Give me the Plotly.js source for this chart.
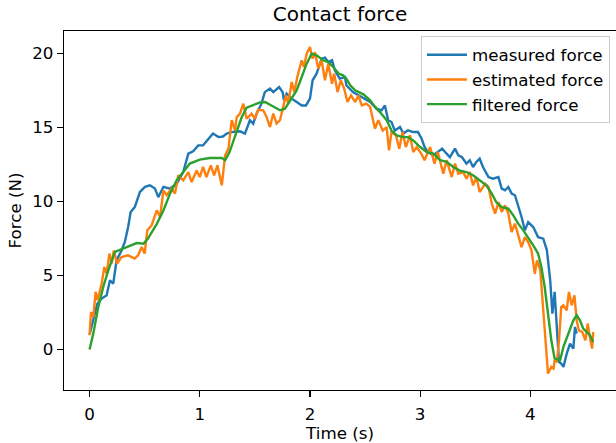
<!DOCTYPE html>
<html>
<head>
<meta charset="utf-8">
<script src="https://cdn.plot.ly/plotly-3.0.1.min.js"></script>
<style>
html,body{margin:0;padding:0;background:#fff;}
#chart{width:616px;height:443px;}
</style>
</head>
<body>
<div id="chart"></div>
<script>
// Measured force (blue)
const tMeasured = [0,0.034,0.07,0.11,0.155,0.185,0.215,0.245,0.29,0.32,0.35,0.373,0.41,0.457,0.503,0.548,0.593,0.624,0.67,0.73,0.79,0.85,0.896,0.94,0.986,1.03,1.077,1.12,1.17,1.21,1.244,1.29,1.365,1.41,1.455,1.485,1.516,1.56,1.59,1.637,1.667,1.72,1.752,1.764,1.788,1.834,1.88,1.925,1.964,2.0,2.024,2.06,2.106,2.136,2.166,2.2,2.226,2.27,2.318,2.33,2.39,2.44,2.485,2.546,2.605,2.65,2.68,2.71,2.74,2.77,2.817,2.847,2.89,2.937,2.98,3.01,3.04,3.07,3.12,3.16,3.2,3.24,3.27,3.316,3.346,3.38,3.42,3.45,3.48,3.51,3.54,3.57,3.62,3.66,3.71,3.74,3.77,3.8,3.83,3.86,3.89,3.92,3.95,3.98,4.026,4.07,4.117,4.15,4.18,4.2,4.22,4.24,4.26,4.28,4.3,4.33,4.36,4.39,4.405,4.42];
const fMeasured = [1.0,2.1,3.1,3.45,3.67,4.68,4.46,6.03,6.7,7.27,8.28,9.3,9.63,10.65,11.0,11.1,10.88,10.3,11.0,10.88,11.2,12.0,13.24,13.4,13.8,13.8,14.2,14.6,14.36,14.4,14.6,14.7,14.75,14.6,15.5,15.27,15.95,16.62,17.4,17.64,17.4,17.74,17.4,16.84,17.3,16.96,16.73,16.5,16.5,16.96,18.2,18.65,19.66,19.73,19.43,19.55,18.87,18.31,18.42,17.86,17.4,17.18,16.96,16.73,16.28,16.17,16.5,15.5,15.38,14.8,15.04,14.6,14.82,14.7,14.7,14.3,13.7,13.35,13.13,13.35,13.58,13.24,13.0,13.58,13.13,13.0,12.57,12.8,12.34,12.68,12.9,12.34,11.66,11.55,11.66,10.88,10.76,10.99,10.54,10.43,9.75,8.96,8.06,8.62,8.28,7.6,7.5,6.71,4.68,2.43,3.9,1.08,-0.84,-0.95,-1.17,-0.27,0.4,0.07,1.53,1.08];

// Estimated force (orange)
const tEstimated = [0,0.013,0.034,0.055,0.073,0.11,0.134,0.155,0.18,0.2,0.22,0.25,0.29,0.35,0.41,0.44,0.473,0.5,0.524,0.563,0.61,0.64,0.67,0.70,0.745,0.775,0.805,0.85,0.896,0.926,0.972,1.0,1.03,1.06,1.1,1.13,1.16,1.2,1.23,1.26,1.29,1.32,1.335,1.365,1.395,1.425,1.47,1.5,1.53,1.576,1.607,1.637,1.667,1.697,1.728,1.758,1.782,1.803,1.834,1.858,1.885,1.925,1.945,1.97,2.0,2.024,2.045,2.075,2.106,2.136,2.166,2.2,2.22,2.25,2.28,2.31,2.34,2.373,2.41,2.44,2.47,2.51,2.546,2.59,2.62,2.66,2.696,2.717,2.74,2.78,2.81,2.84,2.87,2.907,2.937,2.968,3.01,3.04,3.09,3.13,3.16,3.21,3.24,3.286,3.316,3.346,3.39,3.42,3.45,3.48,3.51,3.54,3.59,3.62,3.65,3.68,3.71,3.74,3.77,3.8,3.83,3.86,3.89,3.92,3.95,3.98,4.01,4.04,4.06,4.09,4.117,4.14,4.16,4.19,4.21,4.22,4.24,4.26,4.28,4.3,4.33,4.35,4.375,4.4,4.42,4.44,4.47,4.5,4.52,4.54,4.56,4.57];
const fEstimated = [0.97,2.54,2.2,3.9,3.33,4.46,5.58,5.13,6.49,5.81,6.7,5.81,6.26,6.37,6.15,6.37,6.93,6.49,8.06,8.4,9.41,8.96,10.76,10.43,10.88,10.54,11.78,11.44,12.0,11.32,12.1,11.66,12.34,11.66,12.45,11.78,12.45,11.1,13.13,13.58,15.5,14.8,15.7,15.95,16.62,15.6,15.95,15.6,16.2,16.17,15.7,15.04,15.95,15.27,15.5,16.4,17.18,16.62,18.08,17.4,18.42,19.55,19.1,20.0,20.45,19.66,20.1,18.99,19.55,18.2,19.32,17.97,18.65,17.4,18.2,17.64,16.73,17.18,16.73,17.18,16.5,16.62,16.4,14.93,15.5,14.8,15.04,13.47,14.7,14.48,13.58,14.7,13.69,14.48,13.35,13.69,13.24,12.8,13.69,12.57,13.35,11.89,12.8,11.66,12.57,11.89,12.0,11.55,12.0,11.1,11.66,10.65,11.2,10.99,9.86,9.19,9.97,9.3,9.75,9.19,7.95,8.51,7.72,6.93,7.6,7.27,6.71,5.13,6.03,5.36,2.66,0.4,-1.62,-1.17,-1.28,-0.72,-0.84,0.63,2.88,2.99,2.66,3.9,2.99,3.67,1.98,1.3,1.19,0.63,1.76,0.85,0.07,1.19];

// Filtered force (green)
const tFiltered = [0,0.034,0.079,0.124,0.17,0.23,0.337,0.427,0.49,0.53,0.61,0.67,0.73,0.79,0.85,0.91,1.0,1.09,1.2,1.23,1.27,1.335,1.38,1.425,1.485,1.546,1.592,1.652,1.728,1.773,1.818,1.879,1.925,1.97,2.015,2.06,2.12,2.166,2.21,2.26,2.3,2.33,2.366,2.41,2.485,2.546,2.59,2.635,2.696,2.74,2.787,2.847,2.89,2.937,3.0,3.06,3.12,3.18,3.24,3.3,3.36,3.42,3.48,3.54,3.6,3.65,3.69,3.74,3.8,3.845,3.89,3.936,3.98,4.026,4.07,4.1,4.13,4.16,4.19,4.22,4.27,4.3,4.345,4.39,4.42,4.45,4.48,4.51,4.54,4.57];
const fFiltered = [0,1.08,2.88,4.23,5.36,6.6,6.93,7.2,7.16,7.5,8.5,9.4,10.54,11.44,12.0,12.57,12.84,12.95,12.95,12.8,13.35,14.8,15.7,16.35,16.5,16.7,16.73,16.5,16.17,16.28,16.84,17.52,18.42,19.32,20.0,19.89,19.55,19.43,19.1,18.65,18.53,18.3,17.86,17.52,17.25,16.84,16.4,16.05,15.5,14.8,14.48,14.36,14.36,14.14,13.69,13.35,13.24,12.8,12.68,12.34,12.1,12.0,11.78,11.44,11.1,10.54,9.97,9.63,9.53,9.07,8.51,8.06,7.6,7.05,6.49,5.58,4.23,2.43,0.63,-0.61,-0.72,0.18,1.08,1.98,2.32,1.98,1.42,1.19,0.97,0.51];

const seriesNames = ["measured force", "estimated force", "filtered force"];
const seriesColors = ["#1f77b4", "#ff7f0e", "#2ca02c"];
const xTicks = [0, 1, 2, 3, 4];
const yTicks = [0, 5, 10, 15, 20];

const font = "DejaVu Sans, sans-serif";
const fs = 16.7;
const traces = [
  {x: tMeasured, y: fMeasured},
  {x: tEstimated, y: fEstimated},
  {x: tFiltered, y: fFiltered}
].map((d, i) => ({
  x: d.x, y: d.y, type: "scatter", mode: "lines",
  name: seriesNames[i],
  line: {color: seriesColors[i], width: 2.4}
}));

const layout = {
  width: 616, height: 443,
  margin: {l: 64, r: 0, t: 31, b: 53, pad: 0},
  paper_bgcolor: "#fff", plot_bgcolor: "#fff",
  font: {family: font, size: fs, color: "#000"},
  title: {text: "Contact force", font: {family: font, size: 20, color: "#000"}, x: 0.5, xref: "paper", y: 0.968, yanchor: "middle"},
  xaxis: {
    range: [-0.232, 4.777], tickvals: xTicks, ticktext: xTicks.map(String),
    showgrid: false, zeroline: false, showline: true, linecolor: "#000", linewidth: 1.3,
    mirror: true, ticks: "outside", ticklen: 6, tickcolor: "#000", tickwidth: 1.3,
    ticklabelstandoff: 3,
    tickfont: {family: font, size: fs, color: "#000"},
    title: {text: "Time (s)", font: {family: font, size: fs, color: "#000"}, standoff: 4},
    automargin: false
  },
  yaxis: {
    range: [-2.73, 21.53], tickvals: yTicks, ticktext: yTicks.map(String),
    showgrid: false, zeroline: false, showline: true, linecolor: "#000", linewidth: 1.3,
    mirror: false, ticks: "outside", ticklen: 6, tickcolor: "#000", tickwidth: 1.3,
    tickfont: {family: font, size: fs, color: "#000"},
    title: {text: "Force (N)", font: {family: font, size: fs, color: "#000"}, standoff: 6},
    automargin: false
  },
  showlegend: true,
  legend: {
    x: 0.989, xanchor: "right", y: 0.985, yanchor: "top",
    bgcolor: "rgba(255,255,255,0.8)", bordercolor: "#cccccc", borderwidth: 1,
    font: {family: font, size: fs, color: "#000"},
    itemwidth: 40,
    tracegroupgap: 0
  }
};

Plotly.newPlot("chart", traces, layout, {displayModeBar: false, staticPlot: true});
</script>
</body>
</html>
